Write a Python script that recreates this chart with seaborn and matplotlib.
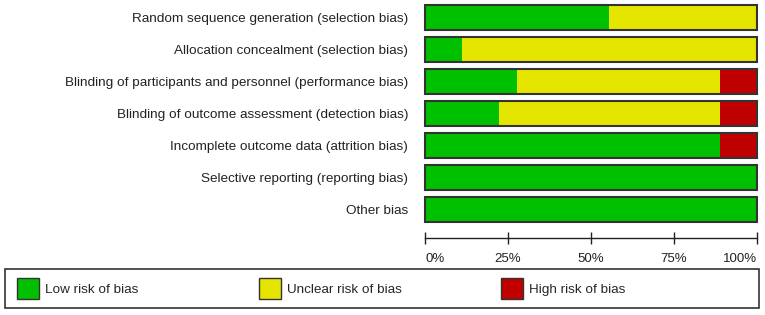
import matplotlib
matplotlib.use("Agg")
import matplotlib.pyplot as plt
import pandas as pd
import seaborn as sns
from matplotlib.patches import Patch, Rectangle

# Données : nombre d'études par domaine (sur 18)
domains = [
    "Random sequence generation (selection bias)",
    "Allocation concealment (selection bias)",
    "Blinding of participants and personnel (performance bias)",
    "Blinding of outcome assessment (detection bias)",
    "Incomplete outcome data (attrition bias)",
    "Selective reporting (reporting bias)",
    "Other bias",
]
low_risk = [10, 2, 5, 4, 16, 18, 18]
unclear_risk = [8, 16, 11, 12, 0, 0, 0]
high_risk = [0, 0, 2, 2, 2, 0, 0]
tick_values = [0, 25, 50, 75, 100]
tick_labels = ["0%", "25%", "50%", "75%", "100%"]
legend_labels = ["Low risk of bias", "Unclear risk of bias", "High risk of bias"]

colors = {"low": "#00c000", "unclear": "#e5e500", "high": "#c00000"}
edge = "#333333"

df = pd.DataFrame({"domain": domains, "low": low_risk,
                   "unclear": unclear_risk, "high": high_risk})
n = df[["low", "unclear", "high"]].sum(axis=1)
df["cum_low"] = df["low"] / n * 100
df["cum_unclear"] = (df["low"] + df["unclear"]) / n * 100
df["cum_high"] = (df["low"] + df["unclear"] + df["high"]) / n * 100

sns.set_style("white")
plt.rcParams["font.family"] = ["Liberation Sans", "DejaVu Sans"]

W, H = 765, 315
fig = plt.figure(figsize=(W / 100, H / 100), dpi=100)
ax = fig.add_axes([425 / W, 1 - 238 / H, 332 / W, 238 / H])

# Barres empilées (du total vers le segment vert)
bar_w = 25 / 32
for col, key in [("cum_high", "high"), ("cum_unclear", "unclear"), ("cum_low", "low")]:
    sns.barplot(data=df, x=col, y="domain", color=colors[key], saturation=1,
                width=bar_w, linewidth=0, errorbar=None, ax=ax)
sns.barplot(data=df, x="cum_high", y="domain", fill=False, color=edge,
            width=bar_w, linewidth=1.5, errorbar=None, ax=ax)
for p in ax.patches:
    p.set_clip_on(False)

ax.set_xlim(0, 100)
ax.set_ylim((238 - 17.5) / 32, -17.5 / 32)
ax.set_xlabel("")
ax.set_ylabel("")
for s in ["top", "right", "left"]:
    ax.spines[s].set_visible(False)
ax.spines["bottom"].set_color("#222222")
ax.spines["bottom"].set_linewidth(1)

ax.set_xticks(tick_values)
ax.set_xticklabels(tick_labels)
ax.tick_params(axis="x", bottom=True, direction="inout", length=9, width=1,
               color="#222222", pad=6.5, labelsize=9.5, labelcolor="#222222")
labels = ax.get_xticklabels()
labels[0].set_horizontalalignment("left")
labels[-1].set_horizontalalignment("right")
ax.tick_params(axis="y", left=False, length=0, pad=12, labelsize=9.7,
               labelcolor="#222222")

# Légende encadrée
fig.patches.append(Rectangle((5 / W, 1 - 308 / H), 754 / W, 39 / H,
                             transform=fig.transFigure, fill=False,
                             edgecolor=edge, linewidth=1.2))
for key, label, x0 in zip(["low", "unclear", "high"], legend_labels, [17, 259, 501]):
    fig.legend(handles=[Patch(facecolor=colors[key], edgecolor=edge, label=label)],
               loc="center left", bbox_to_anchor=(x0 / W, 1 - 288.5 / H),
               frameon=False, handlelength=1.67, handleheight=2.1,
               handletextpad=0.4, fontsize=9.7, borderpad=0, borderaxespad=0)

fig.savefig("out.png", dpi=100)
